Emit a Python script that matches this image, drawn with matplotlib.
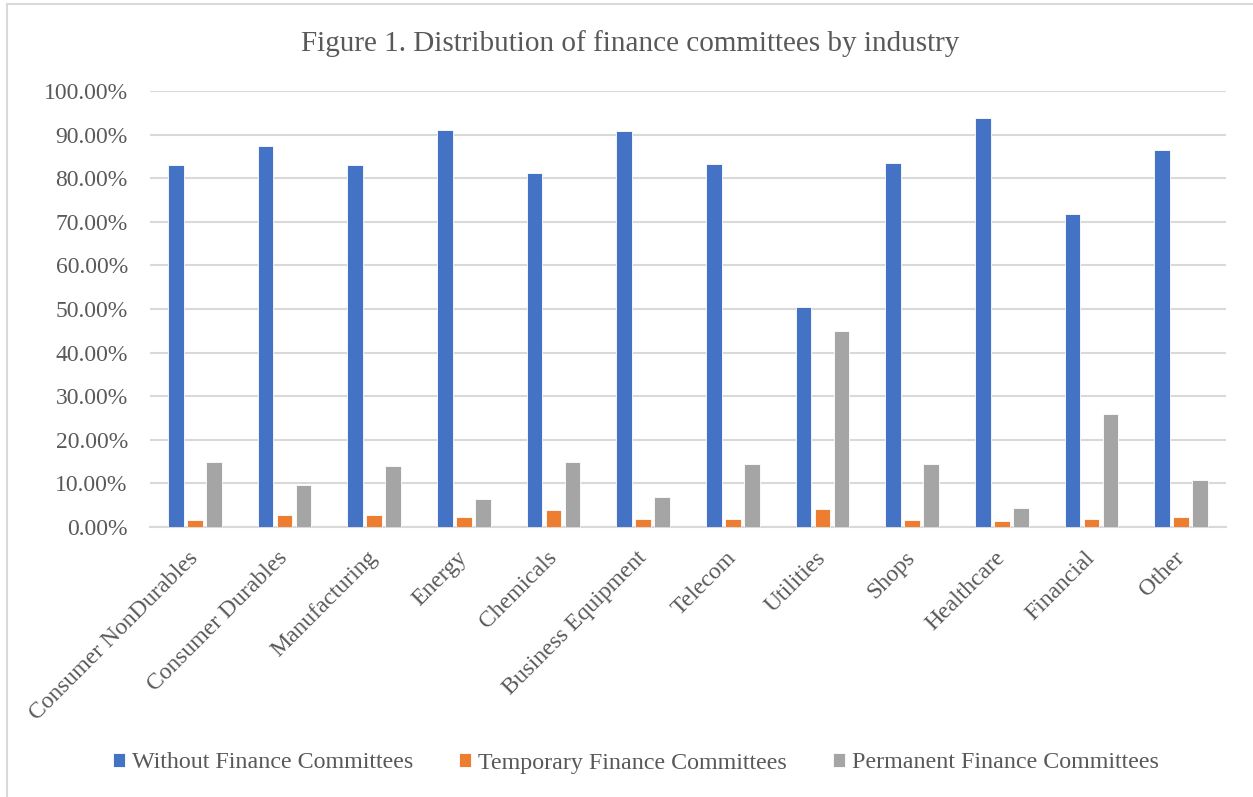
import matplotlib
matplotlib.use("Agg")
import matplotlib.pyplot as plt
from matplotlib.lines import Line2D
from matplotlib.ticker import FuncFormatter, MultipleLocator
import numpy as np

industries = ["Consumer NonDurables", "Consumer Durables", "Manufacturing", "Energy",
              "Chemicals", "Business Equipment", "Telecom", "Utilities", "Shops",
              "Healthcare", "Financial", "Other"]
without_fc = [0.830, 0.873, 0.831, 0.910, 0.811, 0.908, 0.833, 0.504, 0.836, 0.939, 0.717, 0.865]
temporary_fc = [0.017, 0.028, 0.028, 0.022, 0.038, 0.019, 0.019, 0.042, 0.017, 0.013, 0.019, 0.022]
permanent_fc = [0.150, 0.096, 0.139, 0.064, 0.148, 0.068, 0.145, 0.449, 0.144, 0.043, 0.260, 0.107]
series_names = ["Without Finance Committees", "Temporary Finance Committees",
                "Permanent Finance Committees"]

colors = ["#4472C4", "#ED7D31", "#A5A5A5"]
text_color = "#595959"
grid_color = "#D9D9D9"

plt.rcParams["font.family"] = ["Liberation Serif", "DejaVu Serif"]

W, H = 1253, 797
fig = plt.figure(figsize=(W / 100, H / 100), dpi=100)
ax = fig.add_axes([150 / W, 1 - 527 / H, (1226 - 150) / W, (527 - 91) / H])

x = np.arange(len(industries))
step = 0.212
width = 0.172
for i, (vals, c, name) in enumerate(zip([without_fc, temporary_fc, permanent_fc], colors, series_names)):
    ax.bar(x + (i - 1) * step, vals, width=width, color=c, label=name,
           edgecolor="white", linewidth=0.6, zorder=3)

ax.set_xlim(-0.5, len(industries) - 0.5)
ax.set_ylim(0, 1.0)
ax.yaxis.set_major_locator(MultipleLocator(0.1))
ax.yaxis.set_major_formatter(FuncFormatter(lambda v, p: f"{v * 100:.2f}%"))
ax.grid(axis="y", color=grid_color, linewidth=1.5, zorder=0)
ax.set_axisbelow(True)
for s in ["top", "right", "left"]:
    ax.spines[s].set_visible(False)
ax.spines["bottom"].set_color(grid_color)
ax.spines["bottom"].set_linewidth(1.5)

ax.tick_params(axis="y", length=0, pad=16, labelsize=17, labelcolor=text_color)
ax.tick_params(axis="x", length=0, pad=20, labelsize=17, labelcolor=text_color)
ax.set_xticks(x)
ax.set_xticklabels(industries, rotation=45, ha="right", va="center", rotation_mode="anchor")

fig.text(630 / W, 1 - 44 / H, "Figure 1. Distribution of finance committees by industry",
         ha="center", va="center", fontsize=21, color=text_color)

fig.legend(loc="center", bbox_to_anchor=(636 / W, 1 - 763 / H), ncol=3, frameon=False,
           fontsize=17.3, labelcolor=text_color, handlelength=0.5, handleheight=0.5,
           handletextpad=0.3, columnspacing=1.9)

# chart-area border (left and top edges)
fig.add_artist(Line2D([7 / W, 7 / W], [0, 1 - 4 / H], transform=fig.transFigure,
                      color=grid_color, linewidth=1.5))
fig.add_artist(Line2D([7 / W, 1], [1 - 4 / H, 1 - 4 / H], transform=fig.transFigure,
                      color=grid_color, linewidth=1.5))

fig.savefig("out.png", dpi=100, facecolor="white")
